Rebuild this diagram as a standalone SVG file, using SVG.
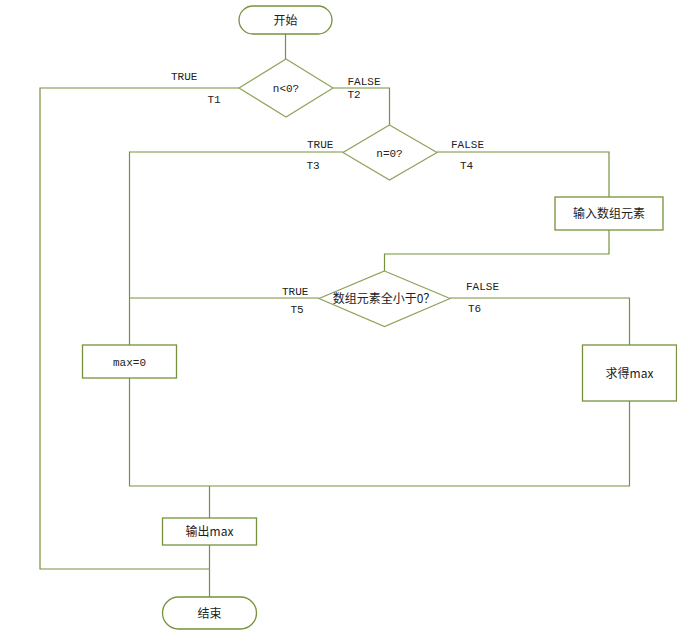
<svg xmlns="http://www.w3.org/2000/svg" width="677" height="631" viewBox="0 0 677 631">
<style>
.s{fill:#fff;stroke:#76923C;stroke-width:1.3}
.d{fill:#fff;stroke:#8FA35A;stroke-width:1.2}
.c{fill:none;stroke:#76923C;stroke-width:1.2}
.t{font-family:"Noto Sans CJK SC","Liberation Mono",sans-serif;font-size:12px;fill:#222;text-anchor:middle}
.m{font-family:"Liberation Mono","Noto Sans CJK SC",monospace;font-size:11px;fill:#222}
</style>
<rect width="677" height="631" fill="#fff"/>
<g id="connectors">
<path class="c" d="M285.5,34V59"/>
<path class="c" d="M239,88H40V569H209"/>
<path class="c" d="M333,88H389.5V125"/>
<path class="c" d="M343,152H129.5V345"/>
<path class="c" d="M437,152H609V197"/>
<path class="c" d="M609,230V254H384.5V271"/>
<path class="c" d="M319,298H129.5"/>
<path class="c" d="M450,298H629.5V345"/>
<path class="c" d="M129.5,378V486H629.5V401"/>
<path class="c" d="M209.5,486V518"/>
<path class="c" d="M209.5,545V597"/>
</g>
<g id="start"><rect class="s" x="239" y="6" width="93" height="28" rx="14"/><text class="t" x="285.5" y="24.5">开始</text></g>
<g id="d1"><polygon class="d" points="286,59 333,88 286,117 239,88"/><text class="m" x="286" y="92" text-anchor="middle">n&lt;0?</text></g>
<g id="d2"><polygon class="d" points="389.5,125 437,152.5 389.5,180 343,152.5"/><text class="m" x="389.5" y="156.5" text-anchor="middle">n=0?</text></g>
<g id="input"><rect class="s" x="555" y="197" width="108" height="33"/><text class="t" x="609" y="218">输入数组元素</text></g>
<g id="d3"><polygon class="d" points="384.5,271 450,298.5 384.5,326.5 319,298.5"/><text class="t" x="384" y="303">数组元素全小于0？</text></g>
<g id="max0"><rect class="s" x="82.5" y="345" width="94" height="33"/><text class="m" x="129.5" y="366" text-anchor="middle">max=0</text></g>
<g id="getmax"><rect class="s" x="582.5" y="345" width="94" height="56"/><text class="t" x="629.5" y="378">求得max</text></g>
<g id="output"><rect class="s" x="162.5" y="518" width="94" height="27"/><text class="t" x="209.5" y="536">输出max</text></g>
<g id="end"><rect class="s" x="162.5" y="597" width="94" height="32" rx="16"/><text class="t" x="209.5" y="617.5">结束</text></g>
<g id="labels">
<text class="m" x="171" y="80">TRUE</text>
<text class="m" x="207.5" y="103">T1</text>
<text class="m" x="347.5" y="84.5">FALSE</text>
<text class="m" x="347.5" y="97.5">T2</text>
<text class="m" x="307" y="147.5">TRUE</text>
<text class="m" x="306.5" y="168.5">T3</text>
<text class="m" x="451" y="147.5">FALSE</text>
<text class="m" x="460" y="168.5">T4</text>
<text class="m" x="282" y="295">TRUE</text>
<text class="m" x="290.5" y="312.5">T5</text>
<text class="m" x="466" y="289.5">FALSE</text>
<text class="m" x="468" y="312">T6</text>
</g>
</svg>
